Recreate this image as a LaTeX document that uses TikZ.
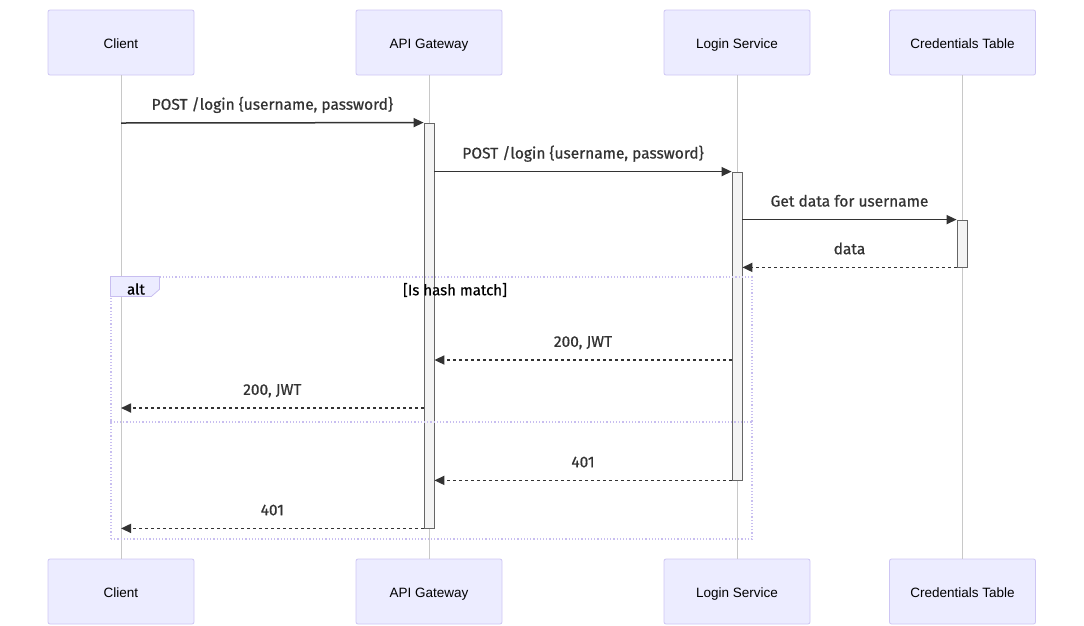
\documentclass[tikz,border=0pt]{standalone}
\usepackage{fontspec}
\setmainfont{Liberation Sans}
\newfontfamily\msgfont[FakeBold=0.7]{Fira Sans}
\usepackage{xcolor}
\usepackage{tikz}
\usetikzlibrary{arrows.meta,positioning,calc}
\definecolor{actorfill}{RGB}{236,236,255}
\definecolor{actorline}{RGB}{206,198,244}
\definecolor{lifegray}{RGB}{200,200,200}
\definecolor{actfill}{RGB}{244,244,244}
\definecolor{actline}{RGB}{102,102,102}
\definecolor{msgdark}{RGB}{51,51,51}
\definecolor{framelav}{RGB}{200,190,240}

\begin{document}
\begin{tikzpicture}[
    x=1pt, y=-1pt,
    >={Triangle[length=10pt,width=9pt]},
    every node/.style={font=\fontsize{13.5}{15}\selectfont},
    actorbox/.style={rectangle, rounded corners=2pt, draw=actorline, fill=actorfill, line width=0.8pt, minimum width=146pt, minimum height=65pt, inner sep=0pt, text height=12pt, text depth=1pt},
    lifeline/.style={draw=lifegray, line width=0.8pt},
    actbar/.style={rectangle, draw=actline, fill=actfill, line width=0.8pt, minimum width=10pt, inner sep=0pt},
    syncmsg/.style={->, line width=1.5pt, color=msgdark},
    replymsg/.style={->, line width=1.7pt, color=msgdark, dash pattern=on 3pt off 3pt},
    msglabel/.style={font=\msgfont\fontsize{15.5}{17}\selectfont, color=msgdark, above=5pt, text height=11pt, text depth=4pt},
    frameline/.style={draw=framelav, line width=1.2pt, dotted}
]
\useasboundingbox (0,0) rectangle (1084,625);

% Actors, top row
\node[actorbox] (clientTop) at (121,42.5) {Client};
\node[actorbox] (gateTop) at (429,42.5) {API Gateway};
\node[actorbox] (loginTop) at (737,42.5) {Login Service};
\node[actorbox] (credTop) at (962.5,42.5) {Credentials Table};

% Actors, bottom row
\node[actorbox] (clientBot) at (121,591.5) {Client};
\node[actorbox] (gateBot) at (429,591.5) {API Gateway};
\node[actorbox] (loginBot) at (737,591.5) {Login Service};
\node[actorbox] (credBot) at (962.5,591.5) {Credentials Table};

% Lifelines
\draw[lifeline] (clientTop.south) -- (clientBot.north);
\draw[lifeline] (gateTop.south) -- (gateBot.north);
\draw[lifeline] (loginTop.south) -- (loginBot.north);
\draw[lifeline] (credTop.south) -- (credBot.north);

% Activations
\node[actbar, minimum height=405pt] (gateAct) at (429,325.5) {};
\node[actbar, minimum height=308pt] (loginAct) at (737,326) {};
\node[actbar, minimum height=47pt] (credAct) at (962,243.5) {};

% Alt frame
\node[frameline, rectangle, minimum width=641pt, minimum height=262pt, inner sep=0pt] (altBox) at (431.5,408) {};
\draw[draw=framelav, fill=actorfill, line width=0.8pt] (altBox.north west) -- ++(49,0) -- ++(0,13) -- ++(-8,7) -- ++(-41,0) -- cycle;
\node[font=\msgfont\fontsize{15}{17}\selectfont, color=black] (altTag) at (136,289) {alt};
\node[font=\msgfont\fontsize{15}{17}\selectfont, color=black] (altCond) at (455,290) {[Is hash match]};
\coordinate (sepY) at (0,422);
\draw[frameline] (altBox.west |- sepY) -- (altBox.east |- sepY);

% Requests
\coordinate (m1) at (121,123);
\draw[syncmsg] (m1) -- node[msglabel] {POST /login \{username, password\}} (gateAct.north west);
\draw[syncmsg] (gateAct.east |- loginAct.north) -- node[msglabel] {POST /login \{username, password\}} (loginAct.north west);
\draw[syncmsg] (loginAct.east |- credAct.north) -- node[msglabel] {Get data for username} (credAct.north west);
\draw[replymsg] (credAct.south west) -- node[msglabel] {data} (loginAct.east |- credAct.south);

% Hash match
\coordinate (m5) at (0,360);
\coordinate (m6) at (0,408);
\draw[replymsg] (loginAct.west |- m5) -- node[msglabel] {200, JWT} (gateAct.east |- m5);
\draw[replymsg] (gateAct.west |- m6) -- node[msglabel] {200, JWT} (clientTop.south |- m6);

% No match
\draw[replymsg] (loginAct.south west) -- node[msglabel] {401} (gateAct.east |- loginAct.south);
\draw[replymsg] (gateAct.south west) -- node[msglabel] {401} (clientTop.south |- gateAct.south);

\end{tikzpicture}
\end{document}
